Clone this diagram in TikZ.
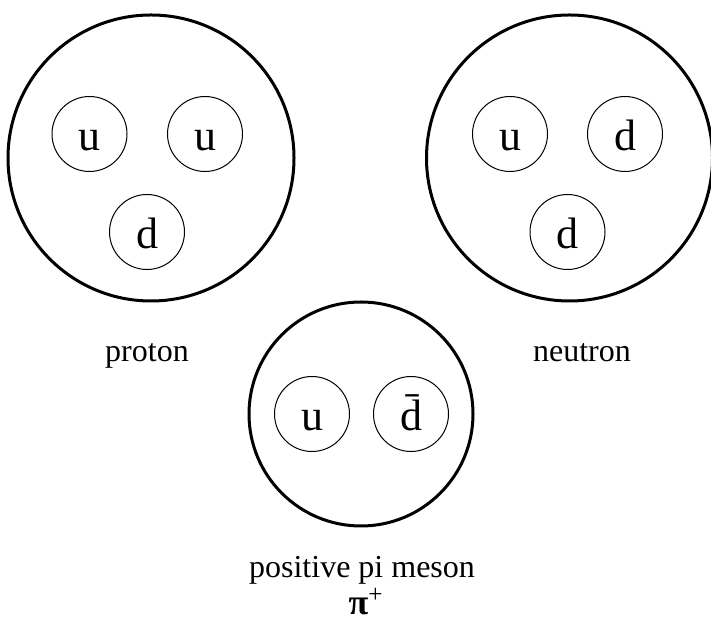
\documentclass[tikz,border=0pt]{standalone}
\usepackage{fontspec}
\setmainfont{Liberation Serif}
\begin{document}
\begin{tikzpicture}[x=0.5pt,y=0.5pt,
  hadron/.style={draw,circle,line width=1.5pt,minimum size=#1,inner sep=0pt},
  quark/.style={draw,circle,line width=0.5pt,minimum size=37.5pt,inner sep=0pt,text height=17pt,text depth=0pt,font=\fontsize{22}{26}\selectfont},
  lbl/.style={anchor=base,font=\fontsize{16}{19}\selectfont}]
\useasboundingbox (0,0) rectangle (711,620);
\node[hadron=143pt] (proton) at (151,462) {};
\node[quark] (pu1) at (89.5,486) {u};
\node[quark] (pu2) at (205,486) {u};
\node[quark] (pd) at (147,388) {d};
\node[hadron=143pt] (neutron) at (569.5,462) {};
\node[quark] (nu) at (510,486) {u};
\node[quark] (nd1) at (625,486) {d};
\node[quark] (nd2) at (567.5,388) {d};
\node[hadron=112pt] (pion) at (361,206) {};
\node[quark] (piu) at (312,206) {u};
\node[quark] (pid) at (411,206) {\=d};
\node[lbl] (protonlbl) at (147,258) {proton};
\node[lbl] (neutronlbl) at (582,258) {neutron};
\node[lbl] (pionlbl) at (362,42) {positive pi meson};
\node[lbl,inner sep=0pt,font=\fontsize{18}{20}\selectfont] (pisym) at (366,5) {\textbf{π}\textsuperscript{+}};
\end{tikzpicture}
\end{document}
